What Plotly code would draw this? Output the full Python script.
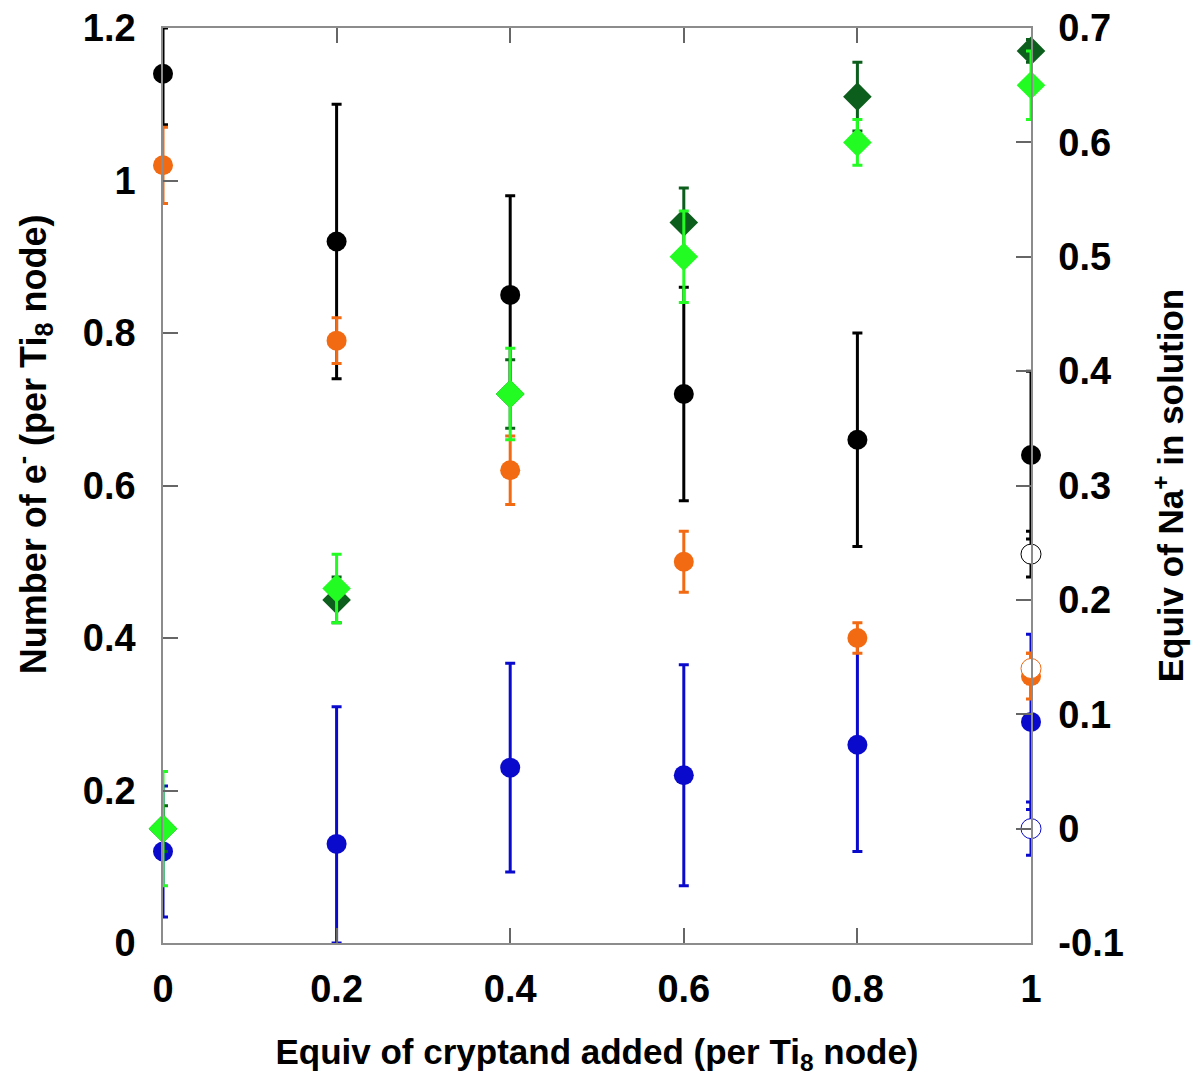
import plotly.graph_objects as go

# ---- data ----
x_vals = [0, 0.2, 0.4, 0.6, 0.8, 1.0]

# left axis: number of e- (per Ti8 node)
black_y = [1.14, 0.92, 0.85, 0.72, 0.66, 0.64]
black_err_plus = [0.06, 0.18, 0.13, 0.14, 0.14, 0.11]
black_err_minus = [0.067, 0.18, 0.13, 0.14, 0.14, 0.11]

orange_y = [1.02, 0.79, 0.62, 0.50, 0.40, 0.35]
orange_err = [0.05, 0.03, 0.045, 0.04, 0.02, 0.03]

blue_y = [0.12, 0.13, 0.23, 0.22, 0.26, 0.29]
blue_err_plus = [0.086, 0.18, 0.137, 0.145, 0.14, 0.115]
blue_err_minus = [0.086, 0.13, 0.137, 0.145, 0.14, 0.115]

# open circles at x = 1
open_x = [1.0]
open_black_y = [0.51]
open_black_err = [0.03]
open_orange_y = [0.36]
open_orange_err = [0.02]
open_blue_y = [0.15]
open_blue_err = [0.035]

# right axis: equiv of Na+ in solution
dkgreen_y = [0.0, 0.20, 0.38, 0.53, 0.64, 0.68]
dkgreen_err = [0.02, 0.02, 0.03, 0.03, 0.03, 0.01]
lime_y = [0.0, 0.21, 0.38, 0.50, 0.60, 0.65]
lime_err = [0.05, 0.03, 0.04, 0.04, 0.02, 0.03]

x_ticks = [0, 0.2, 0.4, 0.6, 0.8, 1]
x_tick_text = ["0", "0.2", "0.4", "0.6", "0.8", "1"]
y_ticks = [0, 0.2, 0.4, 0.6, 0.8, 1.0, 1.2]
y_tick_text = ["0", "0.2", "0.4", "0.6", "0.8", "1", "1.2"]
y2_ticks = [-0.1, 0, 0.1, 0.2, 0.3, 0.4, 0.5, 0.6, 0.7]
y2_tick_text = ["-0.1", "0", "0.1", "0.2", "0.3", "0.4", "0.5", "0.6", "0.7"]

BLACK = "#000000"
ORANGE = "#f26a12"
BLUE = "#0a0acc"
LIME = "#22fc22"
DKGREEN = "#0b5e1b"

FONT = "Liberation Sans, Arial, sans-serif"


def err(plus, minus, color):
    return dict(type="data", symmetric=False, array=plus, arrayminus=minus,
                color=color, thickness=3, width=5)


fig = go.Figure()


def add(x, y, plus, minus, color, symbol, yaxis="y", fill=None, size=20):
    fig.add_trace(go.Scatter(
        x=x, y=y, mode="markers", yaxis=yaxis, cliponaxis=False,
        error_y=err(plus, minus, color),
        marker=dict(symbol=symbol, size=size,
                    color=fill if fill else color,
                    line=dict(color=color, width=1 if fill else 0)),
        showlegend=False))


add(x_vals, black_y, black_err_plus, black_err_minus, BLACK, "circle")
add(x_vals, blue_y, blue_err_plus, blue_err_minus, BLUE, "circle")
add(x_vals, orange_y, orange_err, orange_err, ORANGE, "circle")
add(open_x, open_black_y, open_black_err, open_black_err, BLACK, "circle", fill="white")
add(open_x, open_blue_y, open_blue_err, open_blue_err, BLUE, "circle", fill="white")
add(open_x, open_orange_y, open_orange_err, open_orange_err, ORANGE, "circle", fill="white")
add(x_vals, dkgreen_y, dkgreen_err, dkgreen_err, DKGREEN, "diamond", yaxis="y2", size=22)
add(x_vals, lime_y, lime_err, lime_err, LIME, "diamond", yaxis="y2", size=22)

tickfont = dict(family=FONT, size=38, color="black", weight="bold")
titlefont = dict(family=FONT, size=35, color="black", weight="bold")

fig.add_annotation(
    text="Number of e<sup>-</sup> (per Ti<sub>8</sub> node)",
    xref="paper", yref="paper", x=0, y=0.545, xshift=-130,
    xanchor="center", yanchor="middle", textangle=-90, showarrow=False,
    font=dict(family=FONT, size=36, color="black", weight="bold"),
)

fig.update_layout(
    width=1200, height=1082,
    margin=dict(l=155, r=177, t=20, b=147, autoexpand=False),
    plot_bgcolor="white", paper_bgcolor="white",
    xaxis=dict(
        range=[0, 1], tickvals=x_ticks, ticktext=x_tick_text,
        showgrid=False, zeroline=False,
        showline=True, linecolor="#8c8c8c", linewidth=1.5, mirror="ticks",
        ticks="inside", ticklen=15, tickcolor="#666666", tickwidth=1.5,
        tickfont=tickfont, ticklabelstandoff=12, ticklabeloverflow="allow",
        title=dict(text="Equiv of cryptand added (per Ti<sub>8</sub> node)",
                   font=titlefont, standoff=30),
    ),
    yaxis=dict(
        range=[0, 1.2], tickvals=y_ticks, ticktext=y_tick_text,
        showgrid=False, zeroline=False,
        showline=True, linecolor="#8c8c8c", linewidth=1.5,
        ticks="inside", ticklen=15, tickcolor="#666666", tickwidth=1.5,
        tickfont=tickfont, ticklabelstandoff=18, ticklabeloverflow="allow",
    ),
    yaxis2=dict(
        range=[-0.1, 0.7], tickvals=y2_ticks, ticktext=y2_tick_text,
        overlaying="y", side="right", anchor="x",
        showgrid=False, zeroline=False,
        showline=True, linecolor="#8c8c8c", linewidth=1.5,
        ticks="inside", ticklen=15, tickcolor="#666666", tickwidth=1.5,
        tickfont=tickfont, ticklabelstandoff=18, ticklabeloverflow="allow",
        title=dict(text="Equiv of Na<sup>+</sup> in solution",
                   font=titlefont, standoff=36),
    ),
)

fig.write_html("out.html")
